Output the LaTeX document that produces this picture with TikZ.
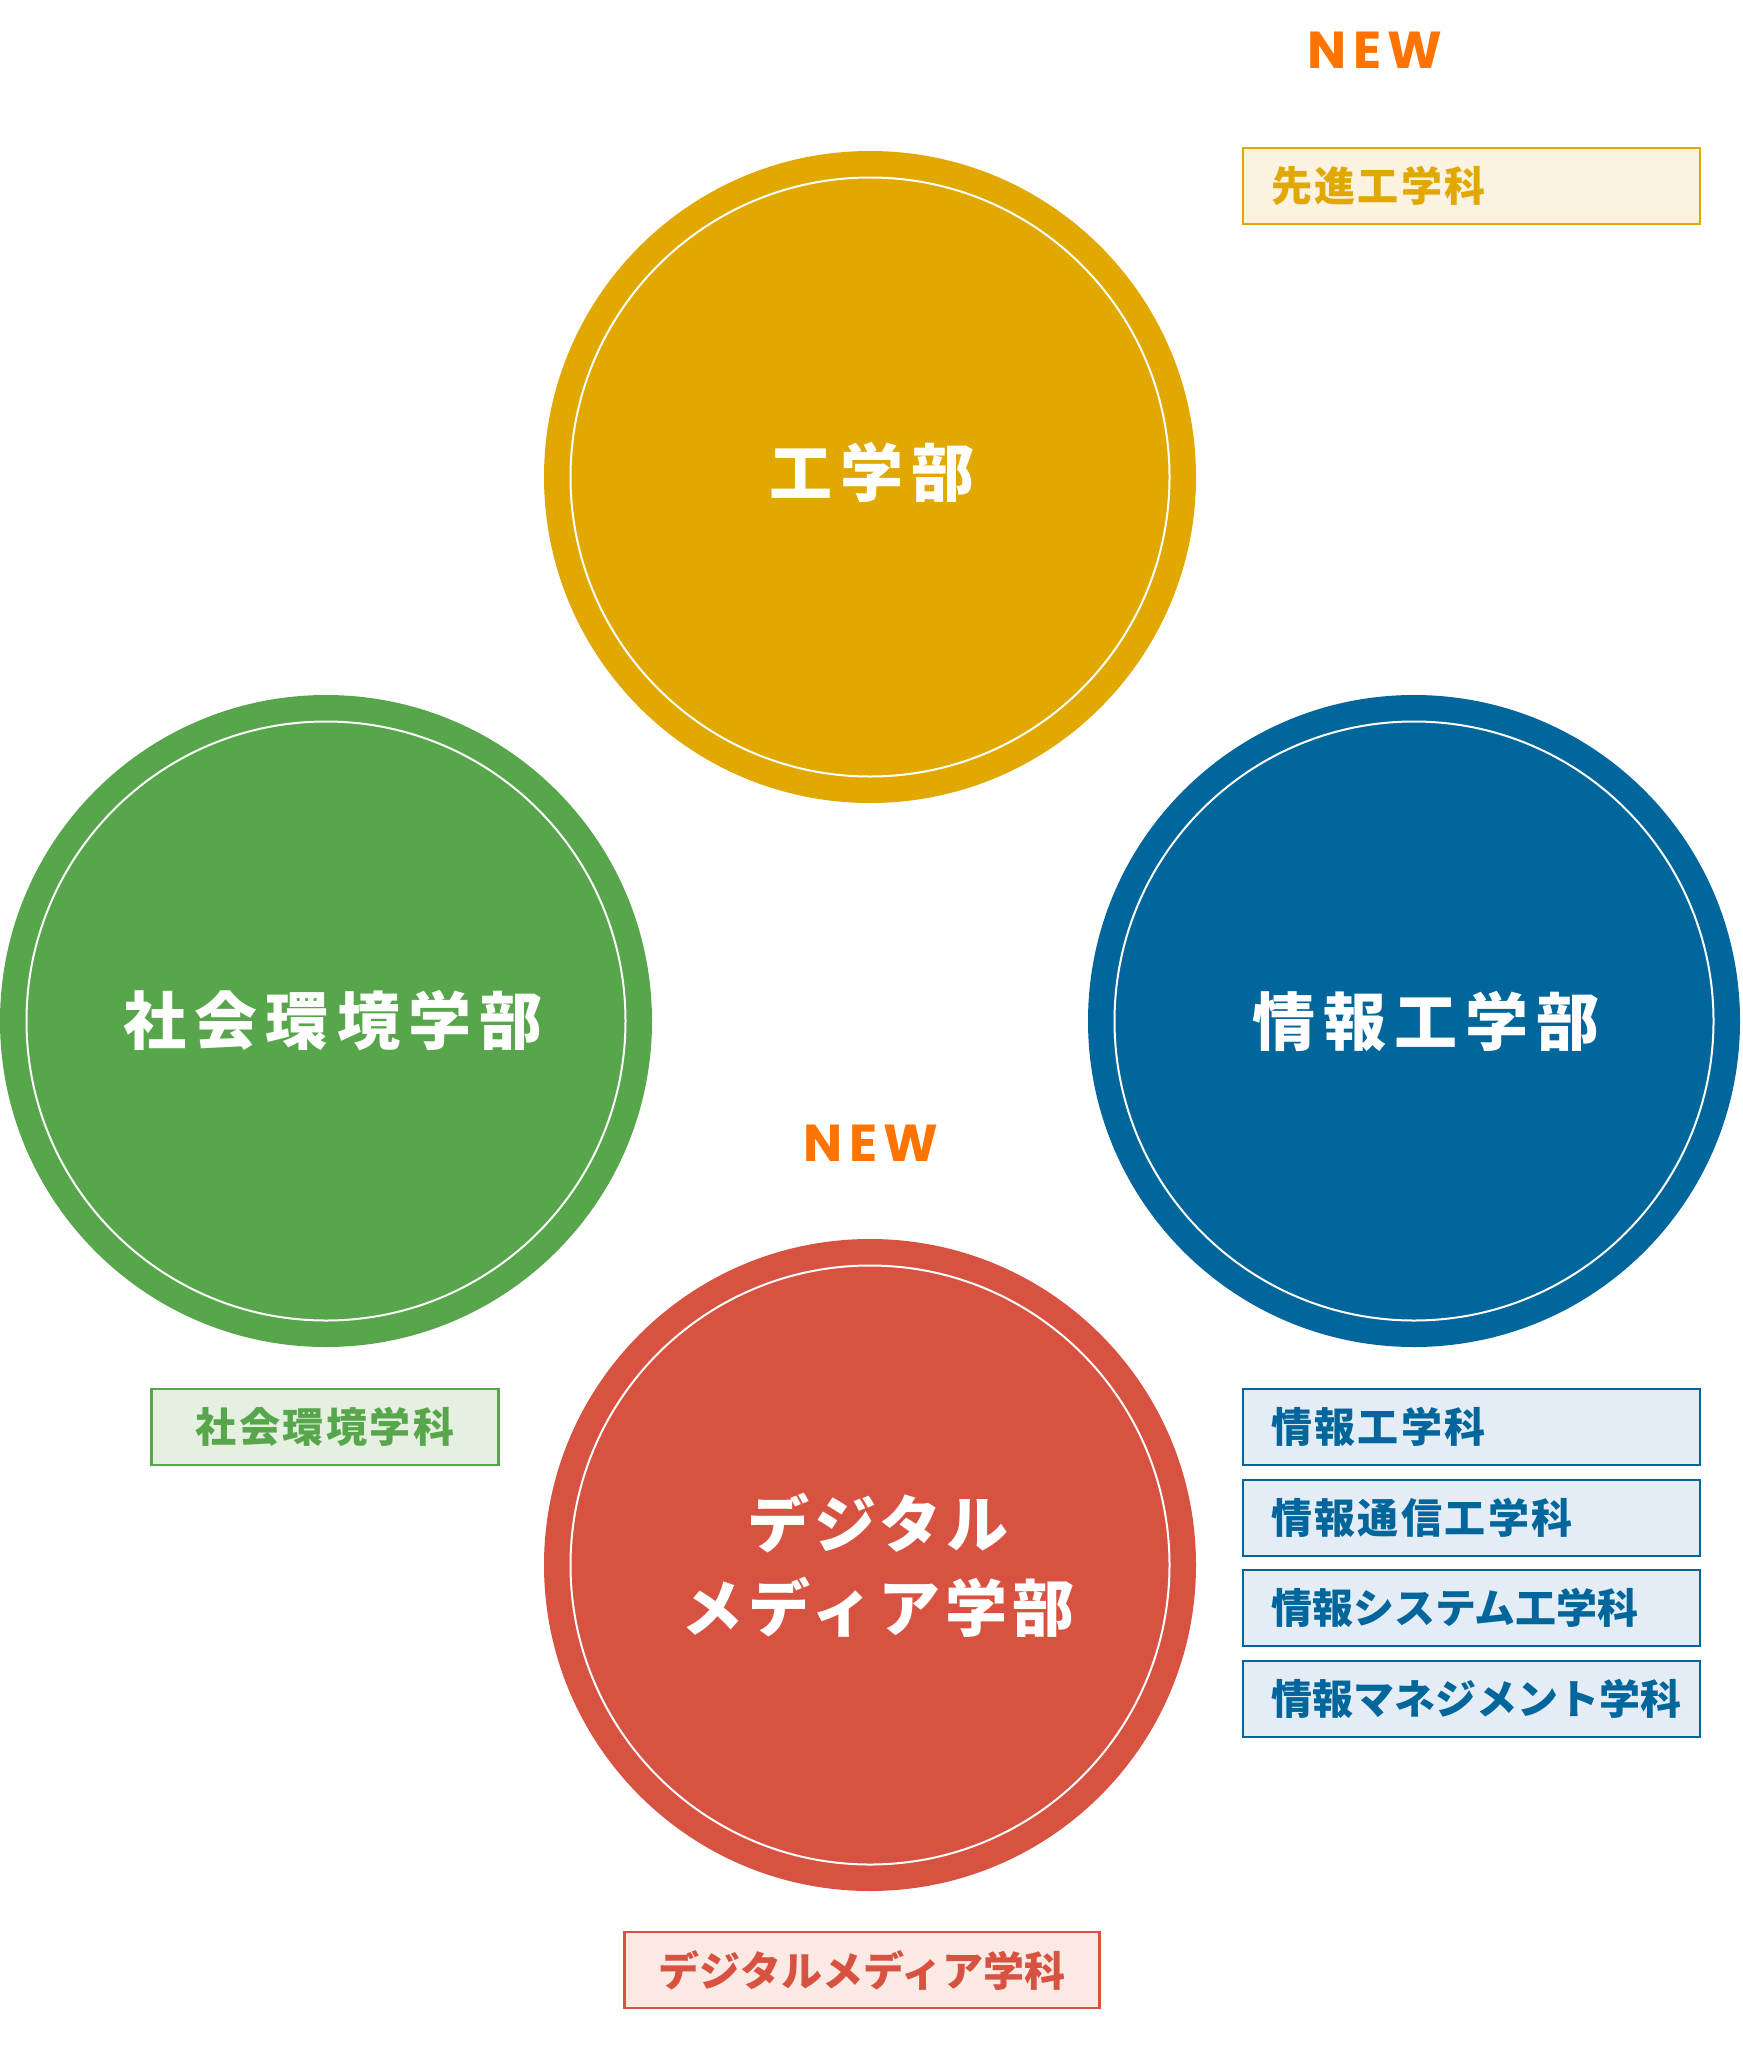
\documentclass[tikz,border=0pt]{standalone}
\usepackage{fontspec}
\newfontfamily\cjkbig{Noto Sans CJK JP}[LetterSpace=13]
\newfontfamily\cjkbigkana{Noto Sans CJK JP}[LetterSpace=8]
\newfontfamily\cjksmall{Noto Sans CJK JP}[LetterSpace=6]
\newfontfamily\cjksmallkana{Noto Sans CJK JP}[LetterSpace=0]
\newfontfamily\newlatin{Poppins}[LetterSpace=12]
\definecolor{cyellow}{HTML}{E0A800}
\definecolor{cgreen}{HTML}{58A64C}
\definecolor{cblue}{HTML}{00669B}
\definecolor{cred}{HTML}{D75241}
\definecolor{corange}{HTML}{FF7300}
\definecolor{lyellow}{HTML}{FBF2DF}
\definecolor{lgreen}{HTML}{E5F0E1}
\definecolor{lblue}{HTML}{E4ECF5}
\definecolor{lred}{HTML}{FBEAE4}
\begin{document}
\begin{tikzpicture}[x=1pt,y=-1pt,
  faculty/.style={circle, minimum size=652pt, inner sep=0pt, fill=#1},
  innerring/.style={draw=white, line width=2pt},
  facname/.style={text=white, align=center, inner sep=0pt,
    font=\cjkbig\bfseries\fontsize{63}{84}\selectfont},
  facnamekana/.style={text=white, align=center, inner sep=0pt,
    font=\cjkbigkana\bfseries\fontsize{62}{84}\selectfont},
  deptbox/.style={draw=#1, text=#1, line width=2.6pt, minimum height=76pt,
    inner ysep=0pt, font=\cjksmall\bfseries\fontsize{41}{48}\selectfont},
  kana/.style={font=\cjksmallkana\bfseries\fontsize{41}{48}\selectfont},
  leftbox/.style={text width=401pt, inner xsep=28pt, align=left},
  newlabel/.style={text=corange, font=\newlatin\bfseries\fontsize{52}{60}\selectfont, inner sep=0pt}
]
\useasboundingbox (0,0) rectangle (1742,2055);

% faculties
\node[faculty=cyellow] (kogaku) at (870,477) {};
\node[faculty=cgreen] (shakai) at (326,1021) {};
\node[faculty=cblue] (joho) at (1414,1021) {};
\node[faculty=cred] (digital) at (870,1565) {};

\foreach \n in {kogaku,shakai,joho,digital}
  \draw[innerring] (\n.center) circle[radius=299.5pt];

\node[facname] (kogakut) at (872,472) {工学部};
\node[facname] (shakait) at (333,1021) {社会環境学部};
\node[facname] (johot) at (1426,1021) {情報工学部};
\node[facnamekana] (digitalt) at (878,1565) {デジタル\\メディア学部};

% NEW labels
\node[newlabel] (new1) at (1375,50) {NEW};
\node[newlabel] (new2) at (871,1143) {NEW};

% department boxes
\node[deptbox=cyellow, fill=lyellow, leftbox] (senshin) at (1471.5,186) {先進工学科};
\node[deptbox=cgreen, fill=lgreen, minimum width=347pt, inner xsep=0pt] (shakaid) at (325,1427) {社会環境学科};
\node[deptbox=cblue, fill=lblue, leftbox] (joho1) at (1471.5,1427) {情報工学科};
\node[deptbox=cblue, fill=lblue, leftbox] (joho2) at (1471.5,1518) {情報通信工学科};
\node[deptbox=cblue, fill=lblue, leftbox, kana] (joho3) at (1471.5,1608) {情報システム工学科};
\node[deptbox=cblue, fill=lblue, leftbox, kana] (joho4) at (1471.5,1699) {情報マネジメント学科};
\node[deptbox=cred, fill=lred, minimum width=475pt, inner xsep=0pt, kana] (digitald) at (862,1970) {デジタルメディア学科};
\end{tikzpicture}
\end{document}
